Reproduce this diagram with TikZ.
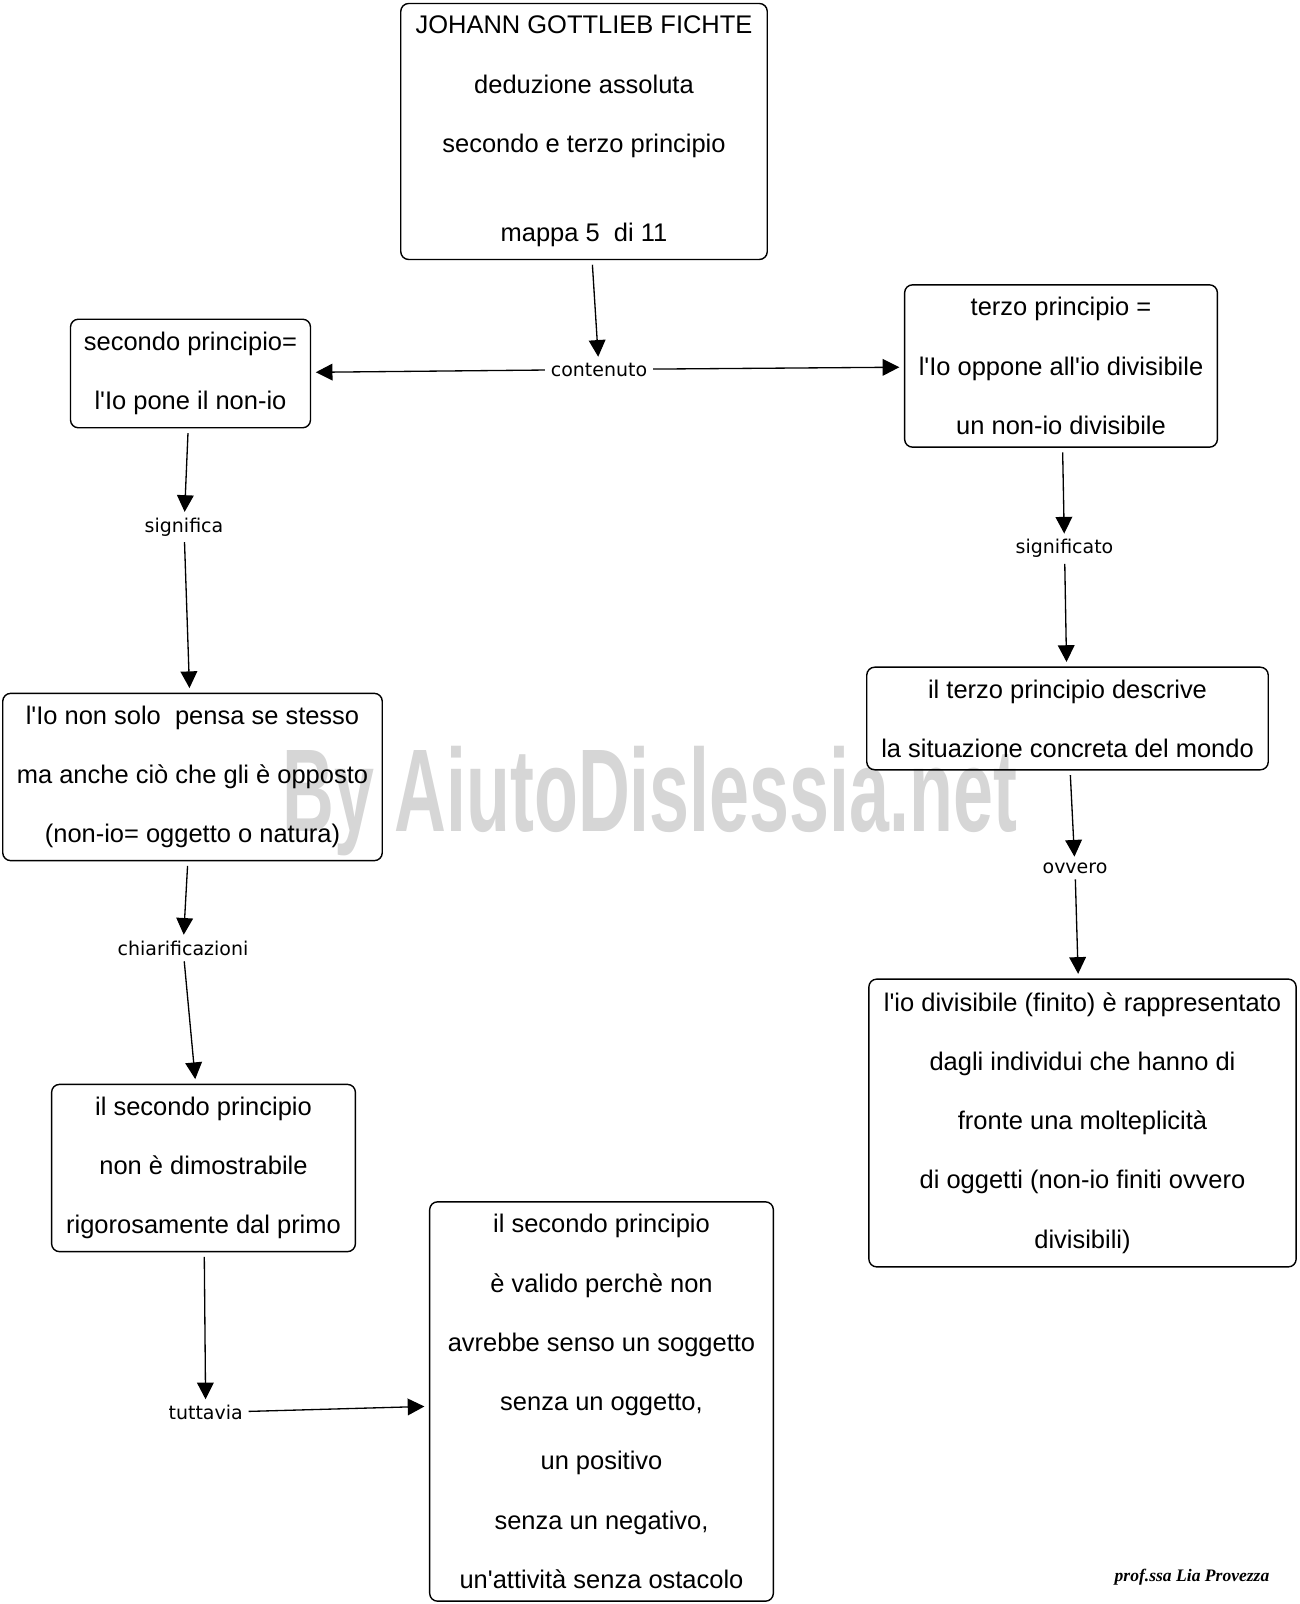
\documentclass[tikz,border=0pt]{standalone}
\usepackage{fontspec}
\usepackage{graphicx}
\newfontfamily\concettofont{Liberation Sans}
\newfontfamily\legamefont{DejaVu Sans}
\newfontfamily\firmafont{Liberation Serif}
\usetikzlibrary{arrows.meta}
\definecolor{marchio}{RGB}{214,214,214}
\tikzset{concetto/.style={draw, rounded corners=4.5pt, line width=0.8pt, align=center, inner sep=3pt, outer sep=3pt, font=\concettofont\fontsize{14.5}{33.7}\selectfont},
	legame/.style={font=\legamefont\fontsize{10.8}{13}\selectfont, inner sep=3pt}}

\begin{document}
\begin{tikzpicture}[x=0.02cm, y=-0.02cm, -{Triangle[length=9.5pt,width=9.5pt]}, line width=0.75pt]
	\useasboundingbox (0,0) rectangle (1300,1604);
	\node[text=marchio, anchor=base, inner sep=0pt] (marchio) at (650,831.7) {\scalebox{0.61}[1]{\concettofont\fontsize{67}{67}\selectfont\bfseries By AiutoDislessia.net}};
	% concetti
	\node[concetto, minimum width=208.6pt, minimum height=145.7pt] (titolo) at (584,131.5)
		{JOHANN GOTTLIEB FICHTE\\deduzione assoluta\\secondo e terzo principio\\[17pt]mappa 5\ \ di 11};
	\node[concetto, minimum width=136.6pt, minimum height=61.8pt] (secondo) at (190.5,373.5)
		{secondo principio=\\l'Io pone il non-io};
	\node[concetto, minimum width=178pt, minimum height=92.4pt] (terzo) at (1061,366)
		{terzo principio =\\l'Io oppone all'io divisibile\\un non-io divisibile};
	\node[concetto, minimum width=216pt, minimum height=95.2pt] (soloio) at (192.5,777)
		{l'Io non solo\ \ pensa se stesso\\ma anche ciò che gli è opposto\\(non-io= oggetto o natura)};
	\node[concetto, minimum width=172.9pt, minimum height=95.2pt] (nondim) at (203.5,1168)
		{il secondo principio\\non è dimostrabile\\rigorosamente dal primo};
	\node[concetto, minimum width=195.6pt, minimum height=227.3pt] (valido) at (601.5,1401.5)
		{il secondo principio\\è valido perchè non\\avrebbe senso un soggetto\\senza un oggetto,\\un positivo\\senza un negativo,\\un'attività senza ostacolo};
	\node[concetto, minimum width=228.5pt, minimum height=58.4pt] (descrive) at (1067.5,718.5)
		{il terzo principio descrive\\la situazione concreta del mondo};
	\node[concetto, minimum width=243.2pt, minimum height=163.8pt] (divisibile) at (1082.5,1123)
		{l'io divisibile (finito) è rappresentato\\dagli individui che hanno di\\fronte una molteplicità\\di oggetti (non-io finiti ovvero\\divisibili)};
	% legami
	\node[legame] (contenuto) at (599,369.5) {contenuto};
	\node[legame] (significa) at (184,527) {significa};
	\node[legame] (chiarif) at (183,948) {chiarificazioni};
	\node[legame] (tuttavia) at (205.7,1412.6) {tuttavia};
	\node[legame] (significato) at (1064.5,548.7) {significato};
	\node[legame] (ovvero) at (1075,868) {ovvero};
	\node[font=\firmafont\bfseries\itshape\fontsize{10}{12}\selectfont] (firma) at (1192,1577) {prof.ssa Lia Provezza};
	% frecce
	\draw (titolo) -- (contenuto);
	\draw (contenuto) -- (secondo);
	\draw (contenuto) -- (terzo);
	\draw (secondo) -- (significa);
	\draw (significa) -- (soloio);
	\draw (soloio) -- (chiarif);
	\draw (chiarif) -- (nondim);
	\draw (nondim) -- (tuttavia);
	\draw (tuttavia) -- (valido);
	\draw (terzo) -- (significato);
	\draw (significato) -- (descrive);
	\draw (descrive) -- (ovvero);
	\draw (ovvero) -- (divisibile);
\end{tikzpicture}
\end{document}
